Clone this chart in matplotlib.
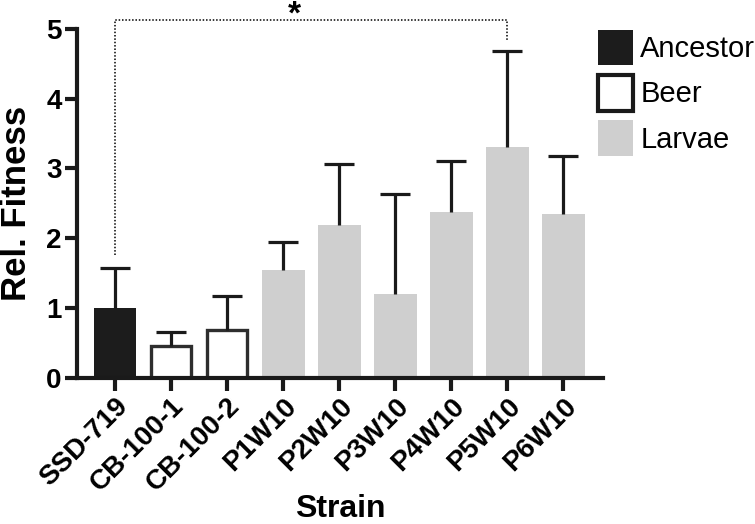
import matplotlib
matplotlib.use("Agg")
import matplotlib.pyplot as plt
from matplotlib.patches import Patch

plt.rcParams['font.family'] = ['Liberation Sans', 'DejaVu Sans']

strains = ['SSD-719', 'CB-100-1', 'CB-100-2', 'P1W10', 'P2W10',
           'P3W10', 'P4W10', 'P5W10', 'P6W10']
groups = ['Ancestor', 'Beer', 'Beer', 'Larvae', 'Larvae',
          'Larvae', 'Larvae', 'Larvae', 'Larvae']
fitness = [1.0, 0.45, 0.69, 1.54, 2.19, 1.2, 2.38, 3.31, 2.34]
err_up = [0.58, 0.2, 0.48, 0.41, 0.87, 1.44, 0.73, 1.37, 0.84]

face = {'Ancestor': '#1c1c1c', 'Beer': 'white', 'Larvae': '#cfcfcf'}
edge = {'Ancestor': '#1c1c1c', 'Beer': '#2e2e2e', 'Larvae': '#cfcfcf'}
lw = {'Ancestor': 0, 'Beer': 2.4, 'Larvae': 0}

fig = plt.figure(figsize=(7.55, 5.24), dpi=100)
ax = fig.add_axes([0.102, 0.279, 0.697, 0.666])

x = list(range(len(strains)))
w = 0.76
for i in x:
    g = groups[i]
    bw = w if g != 'Beer' else w - 0.04
    ax.bar(i, fitness[i], width=bw, color=face[g], edgecolor=edge[g],
           linewidth=lw[g], zorder=2)

# upper error bars only, cap at the top end
tops = [f + e for f, e in zip(fitness, err_up)]
ax.vlines(x, fitness, tops, colors='#1a1a1a', linewidth=2.3, zorder=3)
ax.plot(x, tops, ls='none', marker='_', markersize=22, markeredgewidth=2.3,
        color='#1a1a1a', zorder=3)

# significance bracket
ax.plot([0, 0, 7, 7], [1.76, 5.13, 5.13, 4.82], color='black', lw=1.1,
        ls=(0, (1, 1.2)), clip_on=False, zorder=4)
ax.text(3.2, 5.2, '*', ha='center', va='center', fontsize=24,
        fontweight='bold', clip_on=False)

ax.set_xlim(-0.68, 8.71)
ax.set_ylim(0, 5)
ax.set_yticks([0, 1, 2, 3, 4, 5])
ax.set_xticks(x)
ax.set_xticklabels(strains, rotation=45, ha='right', rotation_mode='anchor',
                   fontsize=20, fontweight='bold')
for t in ax.get_yticklabels():
    t.set_fontsize(20)
    t.set_fontweight('bold')

for s in ['top', 'right']:
    ax.spines[s].set_visible(False)
for s in ['left', 'bottom']:
    ax.spines[s].set_linewidth(3)
    ax.spines[s].set_color('#1a1a1a')
ax.tick_params(axis='both', width=3, length=9, color='#1a1a1a', pad=2)

ax.set_ylabel('Rel. Fitness', fontsize=25, fontweight='bold', va='center')
ax.yaxis.set_label_coords(-0.115, 0.5)
ax.set_xlabel('Strain', fontsize=23, fontweight='bold', va='center')
ax.xaxis.set_label_coords(0.5, -0.375)

handles = [Patch(facecolor=face[g], edgecolor=edge[g] if g != 'Beer' else '#1a1a1a',
                 linewidth=3 if g == 'Beer' else 0, label=g)
           for g in ['Ancestor', 'Beer', 'Larvae']]
fig.legend(handles=handles, loc='upper left', bbox_to_anchor=(0.792, 0.943),
           frameon=False, fontsize=21, handlelength=1.2, handleheight=1.5,
           handletextpad=0.25, labelspacing=0.33, borderpad=0, borderaxespad=0)

fig.savefig('out.png', dpi=100)
